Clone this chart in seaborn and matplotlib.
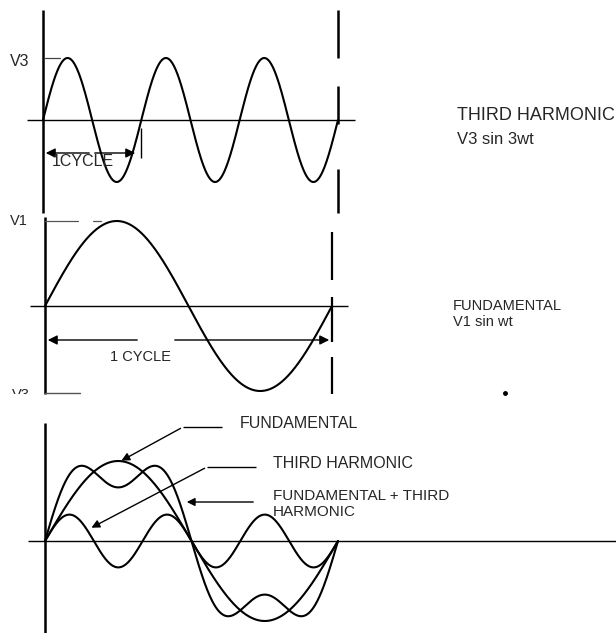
import numpy as np
import pandas as pd
import matplotlib
matplotlib.use("Agg")
import matplotlib.pyplot as plt
import seaborn as sns

sns.set_theme(style="white")
plt.rcParams["font.family"] = ["Liberation Sans", "DejaVu Sans"]

# ---- waveform definitions -------------------------------------------------
angle_deg = np.linspace(0, 360, 1441)          # one period of the fundamental
harmonic_order = 3                              # third harmonic
v3_amplitude = 1.0                              # V3 (top panel units)
v1_amplitude = 1.0                              # V1 (middle panel units)
combo_fund_amplitude = 1.0                      # bottom panel: fundamental
combo_third_amplitude = 0.33                    # bottom panel: third harmonic

panel_labels = ["THIRD HARMONIC", "V3 sin 3wt", "FUNDAMENTAL", "V1 sin wt"]
combo_labels = ["FUNDAMENTAL", "THIRD HARMONIC", "FUNDAMENTAL + THIRD",
                "HARMONIC"]

W, H = 616, 633
fig = plt.figure(figsize=(W / 100, H / 100), dpi=100)
fig.patch.set_facecolor("white")


def panel(top, bottom, x0, x1, zero, unit):
    """Axes spanning a horizontal band; 0..360 deg maps to pixels x0..x1."""
    ax = fig.add_axes([0, 1 - bottom / H, 1, (bottom - top) / H])
    k = 360.0 / (x1 - x0)
    ax.set_xlim(-x0 * k, (W - x0) * k)
    ax.set_ylim(-(bottom - zero) / unit, (zero - top) / unit)
    ax.axis("off")
    return ax


LW = 1.5
rad = np.deg2rad(angle_deg)

# top: third harmonic alone
ax1 = panel(0, 205, 43, 338, 120, 62)
df1 = pd.DataFrame({"deg": angle_deg,
                    "v": v3_amplitude * np.sin(harmonic_order * rad)})
sns.lineplot(data=df1, x="deg", y="v", ax=ax1, color="black", lw=LW,
             sort=False, estimator=None)
ax1.axis("off")

# middle: fundamental alone
ax2 = panel(205, 394, 45, 332, 306, 85)
df2 = pd.DataFrame({"deg": angle_deg, "v": v1_amplitude * np.sin(rad)})
sns.lineplot(data=df2, x="deg", y="v", ax=ax2, color="black", lw=LW,
             sort=False, estimator=None)
ax2.axis("off")

# bottom: fundamental, third harmonic and their sum
ax3 = panel(394, 633, 45, 338, 541, 80)
fund = combo_fund_amplitude * np.sin(rad)
third = combo_third_amplitude * np.sin(harmonic_order * rad)
df3 = pd.concat([
    pd.DataFrame({"deg": angle_deg, "v": fund, "wave": "fund"}),
    pd.DataFrame({"deg": angle_deg, "v": third, "wave": "third"}),
    pd.DataFrame({"deg": angle_deg, "v": fund + third, "wave": "sum"}),
])
sns.lineplot(data=df3, x="deg", y="v", hue="wave", ax=ax3,
             palette=["black"] * 3, lw=LW, sort=False, estimator=None,
             legend=False)
ax3.axis("off")

# ---- drawing furniture in pixel space --------------------------------------
ov = fig.add_axes([0, 0, 1, 1], zorder=5)
ov.set_xlim(0, W)
ov.set_ylim(H, 0)
ov.axis("off")
ov.patch.set_alpha(0)

k = dict(color="black", solid_capstyle="butt")
arrow = dict(arrowstyle="-|>", color="black", lw=1.0, mutation_scale=14)

# top panel axes and guides
ov.plot([43, 43], [10, 213], lw=1.8, **k)
ov.plot([27, 355], [120, 120], lw=1.0, **k)
for y0, y1 in [(10, 58), (86, 124), (169, 213)]:
    ov.plot([338, 338], [y0, y1], lw=1.8, **k)
ov.plot([45, 60], [58, 58], lw=0.9, color="#444444")
ov.text(10, 61, "V3", fontsize=11.5, va="center", ha="left")
ov.annotate("", xy=(43, 153), xytext=(92, 153), arrowprops=arrow)
ov.annotate("", xy=(138, 153), xytext=(92, 153), arrowprops=arrow)
ov.plot([141, 141], [128, 158], lw=1.0, **k)
ov.text(52, 162, "1CYCLE", fontsize=11.5, va="center", ha="left")
ov.text(457, 116, panel_labels[0], fontsize=13, va="center", ha="left")
ov.text(457, 139, panel_labels[1], fontsize=12, va="center", ha="left")

# middle panel axes and guides
ov.plot([45, 45], [217, 394], lw=1.8, **k)
ov.plot([30, 348], [306, 306], lw=1.0, **k)
ov.plot([45, 78], [221, 221], lw=0.9, color="#555555")
ov.plot([93, 101], [221, 221], lw=0.9, color="#555555")
ov.text(10, 221, "V1", fontsize=10.5, va="center", ha="left")
for y0, y1 in [(232, 280), (297, 342), (357, 394)]:
    ov.plot([332, 332], [y0, y1], lw=1.6, **k)
ov.annotate("", xy=(45, 340), xytext=(140, 340), arrowprops=arrow)
ov.annotate("", xy=(332, 340), xytext=(172, 340), arrowprops=arrow)
ov.text(110, 357, "1 CYCLE", fontsize=10.5, va="center", ha="left")
ov.plot([45, 80], [393, 393], lw=1.0, color="#555555")
ov.text(453, 306, panel_labels[2], fontsize=10.5, va="center", ha="left")
ov.text(453, 322, panel_labels[3], fontsize=10.5, va="center", ha="left")
ov.plot([505], [393], marker="o", ms=2.5, color="black")

# partly hidden V3 label cut by the lower edge of the middle band
cut = fig.add_axes([0, 1 - 394 / H, 0.1, 12 / H])
cut.set_xlim(0, 61.6)
cut.set_ylim(12, 0)
cut.axis("off")
cut.text(12, 6, "V3", fontsize=10.5, va="top", ha="left", clip_on=True)

# bottom panel axes and leaders
ov.plot([45, 45], [423, 633], lw=1.8, **k)
ov.plot([28, 616], [541, 541], lw=1.0, **k)
small_arrow = dict(arrowstyle="-|>", color="black", lw=1.0, mutation_scale=12)
ov.plot([222, 183], [427, 427], lw=1.0, **k)
ov.annotate("", xy=(119, 462), xytext=(183, 427), arrowprops=small_arrow)
ov.plot([256, 207], [467, 467], lw=1.0, **k)
ov.annotate("", xy=(89, 529), xytext=(207, 467), arrowprops=small_arrow)
ov.annotate("", xy=(184, 502), xytext=(256, 502), arrowprops=small_arrow)
ov.text(240, 424, combo_labels[0], fontsize=11.5, va="center", ha="left")
ov.text(273, 464, combo_labels[1], fontsize=11.5, va="center", ha="left")
ov.text(273, 496, combo_labels[2], fontsize=11, va="center", ha="left")
ov.text(273, 512, combo_labels[3], fontsize=11, va="center", ha="left")

fig.savefig("out.png", dpi=100, facecolor="white")
